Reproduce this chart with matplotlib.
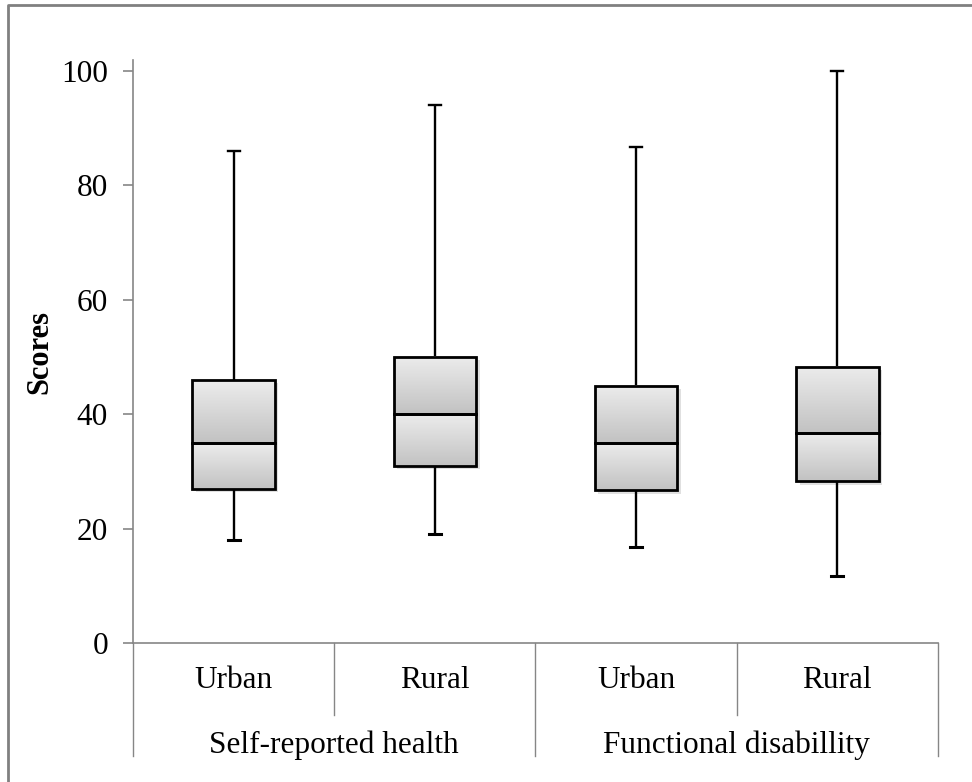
import numpy as np
import matplotlib
matplotlib.use("Agg")
import matplotlib.pyplot as plt
from matplotlib.patches import Rectangle
from matplotlib.colors import LinearSegmentedColormap
from matplotlib.transforms import ScaledTranslation

# data
groups = ['Self-reported health', 'Functional disabillity']
subgroups = ['Urban', 'Rural', 'Urban', 'Rural']
mins = [18, 19, 16.7, 11.7]
q1 = [27, 31, 26.7, 28.3]
medians = [35, 40, 35, 36.7]
q3 = [46, 50, 45, 48.3]
maxs = [86, 94, 86.7, 100]

plt.rcParams['font.family'] = ['Liberation Serif', 'DejaVu Serif']

fig = plt.figure(figsize=(9.72, 7.82), dpi=100)
ax = fig.add_axes([0.1368, 0.1777, 0.965 - 0.1368, 0.9233 - 0.1777])

#gradient used for each half of the box (light at top, darker at bottom)
cmap = LinearSegmentedColormap.from_list('boxgrad', ['#c2c2c2', '#ececec'])
grad = np.linspace(0, 1, 100).reshape(-1, 1)

w = 0.41
shadow_tr = ax.transData + ScaledTranslation(2.5 / 72, -2.5 / 72, fig.dpi_scale_trans)
for i in range(len(subgroups)):
    x = i + 0.5
    # whisker
    ax.plot([x, x], [mins[i], maxs[i]], color='black', lw=1.7, zorder=2, solid_capstyle='butt')
    ax.plot([x - 0.03, x + 0.03], [mins[i], mins[i]], color='black', lw=2.2, zorder=2)
    ax.plot([x - 0.03, x + 0.03], [maxs[i], maxs[i]], color='black', lw=1.7, zorder=2)
    # shadow behind box
    ax.add_patch(Rectangle((x - w / 2, q1[i]), w, q3[i] - q1[i], facecolor='#000000',
                           alpha=0.12, edgecolor='none', transform=shadow_tr, zorder=3))
    for lo, hi in [(q1[i], medians[i]), (medians[i], q3[i])]:
        ax.imshow(grad, cmap=cmap, origin='lower', aspect='auto',
                  extent=[x - w / 2, x + w / 2, lo, hi], zorder=4, interpolation='bilinear')
        ax.add_patch(Rectangle((x - w / 2, lo), w, hi - lo, facecolor='none',
                               edgecolor='black', lw=2.0, zorder=5))

ax.set_xlim(0, 4)
ax.set_ylim(0, 101.9)
ax.set_aspect('auto')

for s in ['top', 'right']:
    ax.spines[s].set_visible(False)
for s in ['left', 'bottom']:
    ax.spines[s].set_color('#868686')
    ax.spines[s].set_linewidth(1.2)

ax.set_yticks([0, 20, 40, 60, 80, 100])
ax.tick_params(axis='y', direction='out', length=7, width=1.2, color='#868686',
               labelsize=22.5, pad=11)
ax.set_xticks([])
ax.set_ylabel('Scores', fontsize=22, fontweight='bold', labelpad=5)

# category axis: labels and divider lines
xt = ax.get_xaxis_transform()
for i, lab in enumerate(subgroups):
    ax.text(i + 0.5, -0.064, lab, transform=xt, ha='center', va='center', fontsize=22.5)
for j, g in enumerate(groups):
    ax.text(2 * j + 1, -0.176, g, transform=xt, ha='center', va='center', fontsize=22.5)
for xd in [1, 3]:
    ax.plot([xd, xd], [0, -0.1235], transform=xt, color='#868686', lw=1.0, clip_on=False)
for xd in [0, 2, 4]:
    ax.plot([xd, xd], [0, -0.194], transform=xt, color='#868686', lw=1.0, clip_on=False)

# outer frame of the chart area
fig.add_artist(plt.Line2D([8 / 972, 8 / 972, 1.0], [0.0, 1 - 5 / 782, 1 - 5 / 782],
                          transform=fig.transFigure, color='#808080', lw=2.0))

fig.savefig('out.png', dpi=100)
